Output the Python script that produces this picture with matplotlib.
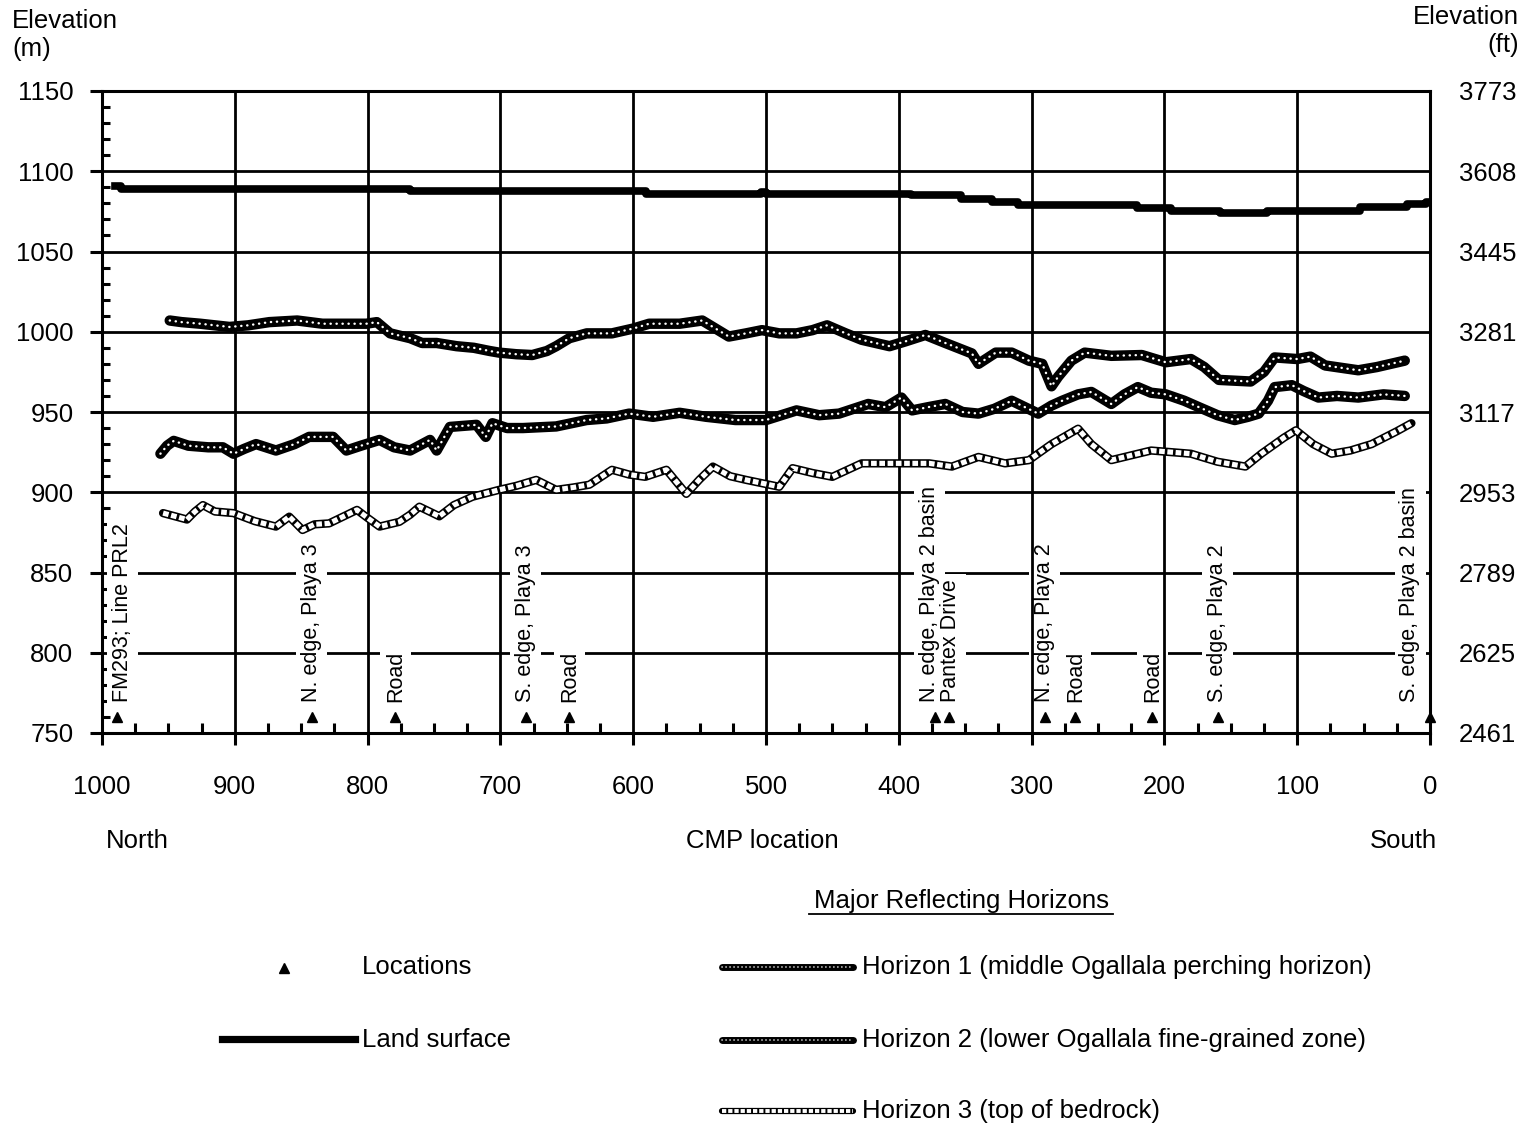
import matplotlib
matplotlib.use("Agg")
import matplotlib.pyplot as plt
from matplotlib.patches import Rectangle
from matplotlib.transforms import IdentityTransform

plt.rcParams['font.family'] = ['Liberation Sans', 'DejaVu Sans']

# land surface, stepped (CMP, elevation m)
land_cmp = [990, 986, 768, 590, 504, 500, 391, 353, 330, 310, 221, 195, 158, 123, 53, 17, 3, 0]
land_elev = [1091, 1089, 1087.5, 1086, 1087, 1086, 1085, 1083, 1081, 1079, 1077, 1075.5, 1074, 1075.5,
             1077.5, 1079.5, 1081, 1081]

# Horizon 1 (middle Ogallala perching horizon)
h1_cmp = [949, 940, 926, 904, 890, 874, 853, 834, 815, 801, 793, 783, 768, 759, 748, 733, 720, 708,
          701, 688, 676, 665, 658, 648, 635, 616, 600, 588, 565, 548, 538, 528, 515, 503, 490, 477,
          465, 454, 440, 428, 407, 395, 380, 365, 345, 340, 327, 315, 302, 292, 285, 280, 270, 260,
          240, 217, 199, 180, 170, 159, 135, 125, 117, 100, 90, 79, 54, 40, 19]
h1_elev = [1007, 1006, 1005, 1003, 1004, 1006, 1007, 1005, 1005, 1005, 1006, 999, 996, 993, 993, 991,
           990, 988, 987, 986, 985.5, 988, 991, 996, 999, 999, 1002, 1005, 1005, 1007, 1002, 997, 999,
           1001, 999, 999, 1001, 1004, 999, 995, 991, 994, 998, 993, 986.5, 980, 987, 987, 982, 980,
           966, 972, 982, 987, 985, 985.5, 981, 983, 978, 970, 969, 975, 984, 983, 984.5, 979, 976,
           978, 982]

# Horizon 2 (lower Ogallala fine-grained zone)
h2_cmp = [956, 951, 946, 935, 920, 909, 901, 893, 884, 869, 855, 844, 826, 816, 805, 791, 780, 768,
          753, 748, 738, 718, 711, 706, 695, 683, 658, 635, 620, 603, 585, 565, 545, 523, 500, 477,
          460, 445, 423, 410, 398, 390, 378, 365, 352, 340, 328, 315, 305, 295, 285, 277, 265, 255,
          240, 230, 220, 210, 199, 185, 174, 160, 147, 137, 129, 122, 117, 104, 95, 84, 70, 54, 35, 19]
h2_elev = [924, 929, 932, 929, 928, 928, 924, 927, 930, 926, 930, 934.5, 934.5, 926, 929, 932.6, 928,
           926, 932.6, 926, 940.7, 942, 934.5, 943, 940, 940, 941, 945, 946, 949, 947, 949.5, 947, 945,
           945, 951, 948, 949, 955, 953, 959, 951, 953, 955, 950, 949, 952, 957, 953, 949, 954, 957,
           961, 962.5, 955, 961, 965.5, 962, 961, 957, 953, 948, 945, 947, 949, 957, 965.5, 966.7,
           963, 959, 960, 959, 961, 960]

# Horizon 3 (top of bedrock)
h3_cmp = [954, 945, 936, 930, 924, 915, 901, 885, 869, 859, 849, 840, 829, 818, 808, 800, 791, 776,
          768, 761, 746, 735, 721, 701, 688, 673, 658, 645, 633, 616, 603, 591, 575, 560, 550, 540,
          527, 515, 490, 480, 465, 450, 428, 402, 377, 360, 340, 320, 302, 285, 265, 255, 240, 225,
          210, 180, 160, 139, 127, 110, 101, 88, 74, 60, 44, 25, 14]
h3_elev = [887, 885, 883, 888, 892, 888, 887, 882, 878.6, 884.8, 876.5, 880, 880.6, 885, 889, 884,
           878.6, 881.6, 886, 891, 885, 892, 897.2, 901.5, 904, 907.7, 901.5, 903, 904.7, 914, 911,
           909.6, 914, 899, 908, 916, 910, 907.7, 903.4, 915, 912, 909.6, 918, 918, 918, 916, 922, 918,
           920, 930, 939.6, 930, 920, 923, 926, 924, 919, 916, 924, 934, 938.6, 930, 924, 926, 930,
           938, 943]

# surface locations along the line
loc_names = ["FM293; Line PRL2", "N. edge, Playa 3", "Road", "S. edge, Playa 3", "Road",
             "N. edge, Playa 2 basin", "Pantex Drive", "N. edge, Playa 2", "Road", "Road",
             "S. edge, Playa 2", "S. edge, Playa 2 basin"]
loc_cmp = [989, 842, 779, 681, 648, 373, 362, 290, 267, 209, 160, 0]
loc_marker_elev = 760
loc_label_elev = 769.5

m_ticks = [750, 800, 850, 900, 950, 1000, 1050, 1100, 1150]
ft_labels = ['2461', '2625', '2789', '2953', '3117', '3281', '3445', '3608', '3773']
cmp_ticks = [1000, 900, 800, 700, 600, 500, 400, 300, 200, 100, 0]

W, H = 1531, 1129
fig = plt.figure(figsize=(W / 100, H / 100), dpi=100)
ax = fig.add_axes([102 / W, 1 - 733 / H, 1328 / W, 642 / H])


def draw_dark(a, x, y, zo=2, lw=7.5):
    a.plot(x, y, color='black', lw=lw, solid_capstyle='round', zorder=zo)
    a.plot(x, y, color='white', lw=lw * 0.23, linestyle=(0, (0.1, 2.4)), dash_capstyle='round', zorder=zo + 0.1)


def draw_light(a, x, y, zo=2, lw=6.0):
    a.plot(x, y, color='black', lw=lw, solid_capstyle='round', zorder=zo)
    a.plot(x, y, color='white', lw=lw * 0.62, linestyle=(0, (1.1, 0.5)), zorder=zo + 0.1)


ax.plot(land_cmp, land_elev, color='black', lw=5.5, drawstyle='steps-post', zorder=2)
draw_dark(ax, h1_cmp, h1_elev)
draw_dark(ax, h2_cmp, h2_elev)
draw_light(ax, h3_cmp, h3_elev)

ax.plot(loc_cmp, [loc_marker_elev] * len(loc_cmp), linestyle='none', marker='^', color='black',
        ms=7.5, zorder=4, clip_on=False)
# small nudges (points) so crowded / end labels sit like the original
nudge = {0: 4.3, 5: -3.6, 6: 1.0, len(loc_names) - 1: -14.4}
labels = []
for i, (name, c) in enumerate(zip(loc_names, loc_cmp)):
    t = ax.annotate(name, xy=(c, loc_label_elev), xytext=(nudge.get(i, 0), 0), textcoords='offset points',
                    rotation=90, ha='center', va='bottom', fontsize=15.5, zorder=3)
    labels.append(t)

ax.set_xlim(1000, 0)
ax.set_ylim(750, 1150)
ax.set_xticks(cmp_ticks)
ax.set_xticks(range(975, 0, -25), minor=True)
ax.set_yticks(m_ticks)
ax.set_yticks(range(760, 1150, 10), minor=True)
ax.set_axisbelow(True)
ax.grid(True, axis='y', which='major', color='black', lw=2.0)
# vertical grid drawn above the label masks
for c in cmp_ticks[1:-1]:
    ax.axvline(c, color='black', lw=2.0, zorder=1.5)
for s in ax.spines.values():
    s.set_linewidth(2.2)
ax.tick_params(which='major', direction='out', length=8.6, width=2.2, labelsize=18.5)
ax.tick_params(axis='y', which='major', pad=12)
ax.tick_params(axis='x', which='major', pad=22)
ax.tick_params(axis='y', which='minor', direction='in', length=6, width=2.2)
ax.tick_params(axis='x', which='minor', direction='in', length=7, width=2.2)

ax2 = ax.twinx()
ax2.set_ylim(750, 1150)
ax2.set_yticks(m_ticks)
ax2.set_yticklabels(ft_labels)
ax2.tick_params(axis='y', length=0, pad=21, labelsize=18.5)
for s in ax2.spines.values():
    s.set_visible(False)

# axis titles and legend, placed in figure pixels
ov = fig.add_axes([0, 0, 1, 1], facecolor='none')
ov.set_xlim(0, W)
ov.set_ylim(H, 0)
ov.axis('off')
fs = 18.5
ov.text(12, 9, "Elevation\n(m)", ha='left', va='top', fontsize=fs, linespacing=1.2)
ov.text(1519, 5, "Elevation\n(ft)", ha='right', va='top', fontsize=fs, linespacing=1.2, multialignment='right')
ov.text(106, 841, "North", ha='left', va='center', fontsize=fs)
ov.text(762, 841, "CMP location", ha='center', va='center', fontsize=fs)
ov.text(1437, 841, "South", ha='right', va='center', fontsize=fs)
ov.text(961, 901, "Major Reflecting Horizons", ha='center', va='center', fontsize=fs)
ov.plot([809, 1113], [914, 914], color='black', lw=1.3)

ov.plot([284], [968], marker='^', color='black', ms=6.5, linestyle='none')
ov.text(362, 967, "Locations", ha='left', va='center', fontsize=fs)
ov.plot([222, 355], [1039, 1039], color='black', lw=5.2)
ov.text(362, 1040, "Land surface", ha='left', va='center', fontsize=fs)

draw_dark(ov, [722, 853], [967, 967], lw=5)
ov.text(862, 967, "Horizon 1 (middle Ogallala perching horizon)", ha='left', va='center', fontsize=fs)
draw_dark(ov, [722, 853], [1040, 1040], lw=5)
ov.text(862, 1040, "Horizon 2 (lower Ogallala fine-grained zone)", ha='left', va='center', fontsize=fs)
draw_light(ov, [722, 853], [1111, 1111], lw=4.5)
ov.text(862, 1111, "Horizon 3 (top of bedrock)", ha='left', va='center', fontsize=fs)

# white masks behind the location labels break the horizontal grid
fig.canvas.draw()
rend = fig.canvas.get_renderer()
for t in labels:
    bb = t.get_window_extent(rend)
    p = 5
    ax.add_patch(Rectangle((bb.x0 - p, bb.y0 - p), bb.width + 2 * p, bb.height + 2 * p,
                           transform=IdentityTransform(), fc='white', ec='none', zorder=1.0))

fig.savefig("out.png", dpi=100)
